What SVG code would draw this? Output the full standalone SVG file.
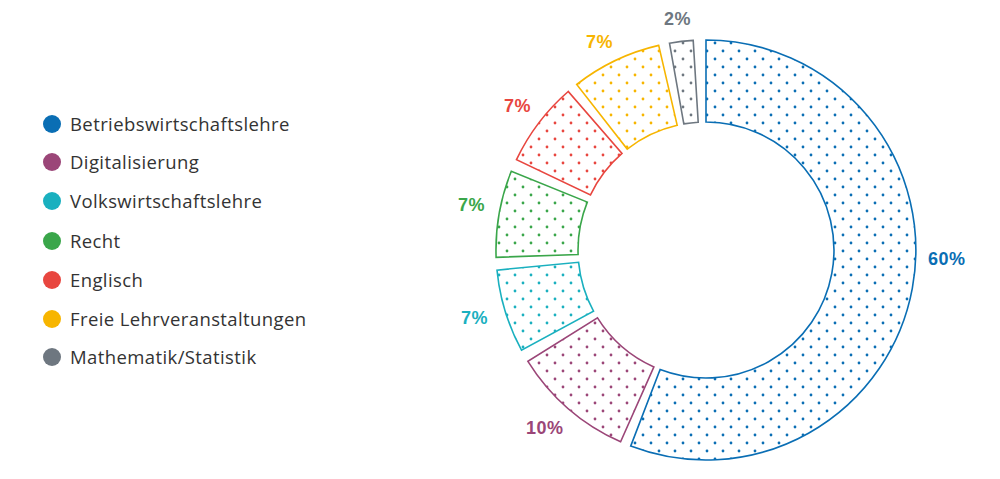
<svg xmlns="http://www.w3.org/2000/svg" width="1000" height="479" viewBox="0 0 1000 479">
<style>
.lg{font-family:"Open Sans","Liberation Sans",sans-serif;font-size:18.5px;fill:#333;letter-spacing:0.4px}
.pc{font-family:"Liberation Sans",sans-serif;font-size:18px;font-weight:bold;letter-spacing:0.5px}
.seg{stroke-width:1.6}
</style>
<defs>
<pattern id="pb" width="16" height="16" patternUnits="userSpaceOnUse"><circle cx="3" cy="3" r="1.4" fill="#0a6eb4"/><circle cx="11" cy="11" r="1.4" fill="#0a6eb4"/></pattern>
<pattern id="pp" width="16" height="16" patternUnits="userSpaceOnUse"><circle cx="3" cy="3" r="1.4" fill="#9b4678"/><circle cx="11" cy="11" r="1.4" fill="#9b4678"/></pattern>
<pattern id="pc" width="16" height="16" patternUnits="userSpaceOnUse"><circle cx="3" cy="3" r="1.4" fill="#1ab0bf"/><circle cx="11" cy="11" r="1.4" fill="#1ab0bf"/></pattern>
<pattern id="pg" width="16" height="16" patternUnits="userSpaceOnUse"><circle cx="3" cy="3" r="1.4" fill="#3aa64a"/><circle cx="11" cy="11" r="1.4" fill="#3aa64a"/></pattern>
<pattern id="pr" width="16" height="16" patternUnits="userSpaceOnUse"><circle cx="3" cy="3" r="1.4" fill="#e8463f"/><circle cx="11" cy="11" r="1.4" fill="#e8463f"/></pattern>
<pattern id="py" width="16" height="16" patternUnits="userSpaceOnUse"><circle cx="3" cy="3" r="1.4" fill="#f7b500"/><circle cx="11" cy="11" r="1.4" fill="#f7b500"/></pattern>
<pattern id="pa" width="16" height="16" patternUnits="userSpaceOnUse"><circle cx="3" cy="3" r="1.4" fill="#6e7780"/><circle cx="11" cy="11" r="1.4" fill="#6e7780"/></pattern>
</defs>
<rect width="1000" height="479" fill="#fff"/>
<g id="legend">
<circle cx="52" cy="124" r="9" fill="#0a6eb4"/><text class="lg" x="70" y="131">Betriebswirtschaftslehre</text>
<circle cx="52" cy="162" r="9" fill="#9b4678"/><text class="lg" x="70" y="169">Digitalisierung</text>
<circle cx="52" cy="201" r="9" fill="#1ab0bf"/><text class="lg" x="70" y="208">Volkswirtschaftslehre</text>
<circle cx="52" cy="241" r="9" fill="#3aa64a"/><text class="lg" x="70" y="248">Recht</text>
<circle cx="52" cy="280" r="9" fill="#e8463f"/><text class="lg" x="70" y="287">Englisch</text>
<circle cx="52" cy="319" r="9" fill="#f7b500"/><text class="lg" x="70" y="326">Freie Lehrveranstaltungen</text>
<circle cx="52" cy="357" r="9" fill="#6e7780"/><text class="lg" x="70" y="364">Mathematik/Statistik</text>
</g>
<g id="seg-bwl"><path class="seg" fill="url(#pb)" stroke="#0a6eb4" d="M706,40 A210,210 0 1 1 630.7,446.1 L660.1,369.5 A128,128 0 1 0 706,122 Z"/><text class="pc" x="928" y="265" fill="#0a6eb4">60%</text></g>
<g id="seg-dig"><path class="seg" fill="url(#pp)" stroke="#9b4678" d="M620.6,441.8 A210,210 0 0 1 527.9,361.3 L597.5,317.8 A128,128 0 0 0 653.9,366.9 Z"/><text class="pc" x="526" y="434" fill="#9b4678">10%</text></g>
<g id="seg-vwl"><path class="seg" fill="url(#pc)" stroke="#1ab0bf" d="M521.5,350.2 A210,210 0 0 1 497,270.1 L578.6,262.3 A128,128 0 0 0 593.5,311.1 Z"/><text class="pc" x="461" y="324" fill="#1ab0bf">7%</text></g>
<g id="seg-recht"><path class="seg" fill="url(#pg)" stroke="#3aa64a" d="M496.1,257.3 A210,210 0 0 1 511.3,171.3 L587.3,202.1 A128,128 0 0 0 578.1,254.5 Z"/><text class="pc" x="458" y="211" fill="#3aa64a">7%</text></g>
<g id="seg-eng"><path class="seg" fill="url(#pr)" stroke="#e8463f" d="M516.5,159.6 A210,210 0 0 1 568.2,91.5 L622,153.4 A128,128 0 0 0 590.5,194.9 Z"/><text class="pc" x="504" y="112" fill="#e8463f">7%</text></g>
<g id="seg-frei"><path class="seg" fill="url(#py)" stroke="#f7b500" d="M576.7,84.5 A210,210 0 0 1 658.7,45.4 L677.2,125.3 A128,128 0 0 0 627.2,149.1 Z"/><text class="pc" x="586" y="48" fill="#f7b500">7%</text></g>
<g id="seg-mathe"><path class="seg" fill="url(#pa)" stroke="#6e7780" d="M669.5,43.2 A210,210 0 0 1 693.2,40.4 L698.2,122.2 A128,128 0 0 0 683.8,123.9 Z"/><text class="pc" x="664" y="25" fill="#6e7780">2%</text></g>
<g id="connectors"/>
</svg>
